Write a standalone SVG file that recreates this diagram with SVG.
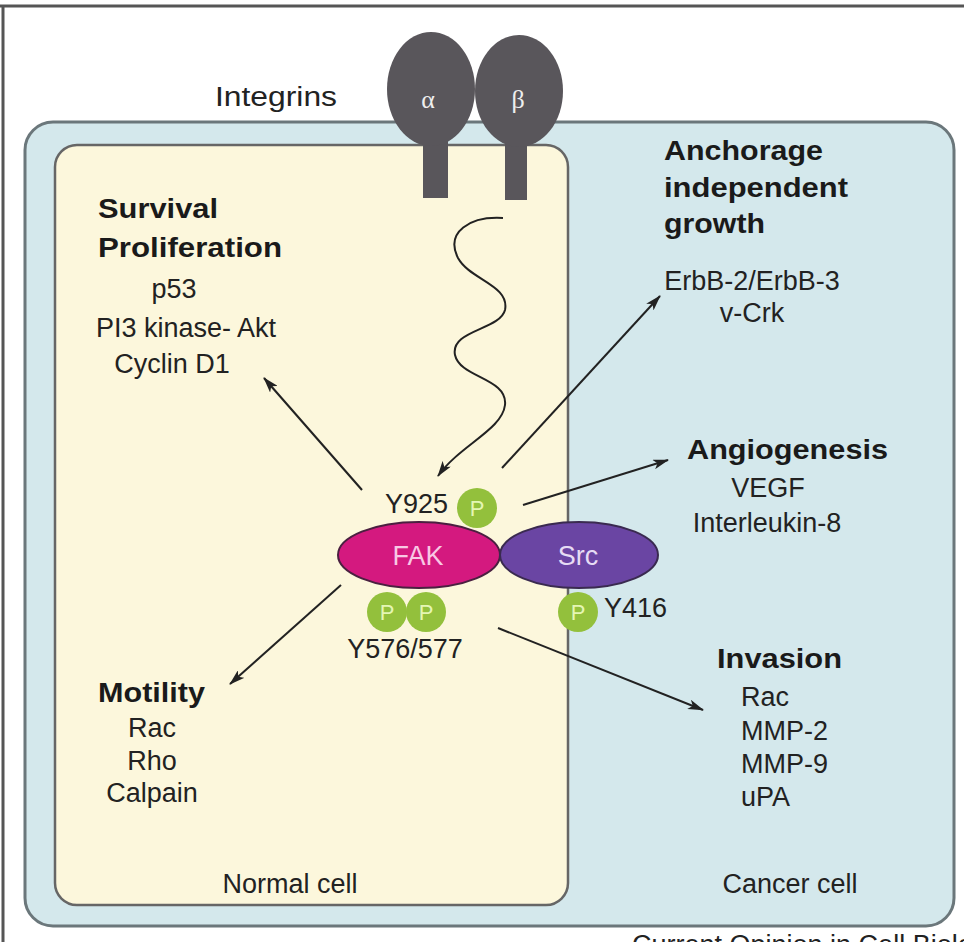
<svg xmlns="http://www.w3.org/2000/svg" width="964" height="942" viewBox="0 0 964 942">
<defs>
<style>
.t{font-family:"Liberation Sans",Arial,sans-serif;font-size:27px;fill:#222}
.b{font-family:"Liberation Sans",Arial,sans-serif;font-size:27px;font-weight:bold;fill:#1a1a1a}
.c{text-anchor:middle}
.ln{fill:none;stroke:#222;stroke-width:2}
.p{fill:#93c03c}
.pt{font-family:"Liberation Sans",Arial,sans-serif;font-size:22px;fill:#e4f6b4;text-anchor:middle}
</style>
<marker id="ah" viewBox="0 0 16 10" refX="15" refY="5" markerWidth="16" markerHeight="10" markerUnits="userSpaceOnUse" orient="auto">
<path d="M0,0 L16,5 L0,10 L4,5 z" fill="#222"/>
</marker>
</defs>
<rect width="964" height="942" fill="#fff"/>
<path d="M0,6 H964 M3,6 V942" fill="none" stroke="#555" stroke-width="3"/>

<g id="cancer-cell">
<rect x="25" y="122" width="929" height="804" rx="28" fill="#d4e8ec" stroke="#6b777b" stroke-width="3"/>
<text class="t c" x="790" y="893">Cancer cell</text>
</g>
<g id="normal-cell">
<rect x="55" y="145" width="513" height="760" rx="22" fill="#fcf7dc" stroke="#666" stroke-width="2.5"/>
<text class="t c" x="290" y="893">Normal cell</text>
</g>

<g id="integrins">
<text class="t" x="215" y="106" textLength="122" lengthAdjust="spacingAndGlyphs">Integrins</text>
<rect x="423" y="130" width="25" height="68" fill="#59565b"/>
<rect x="505" y="130" width="22" height="70" fill="#59565b"/>
<ellipse cx="431" cy="89" rx="44" ry="57" fill="#59565b"/>
<ellipse cx="519" cy="91" rx="44" ry="56" fill="#59565b"/>
<text x="428" y="108" font-family="'Liberation Serif',serif" font-size="26" fill="#eee" text-anchor="middle">α</text>
<text x="518" y="108" font-family="'Liberation Serif',serif" font-size="26" fill="#eee" text-anchor="middle">β</text>
</g>

<g id="connectors">
<path class="ln" d="M503,218 C470,216 445,232 458,258 C470,280 510,285 505,310 C500,330 450,330 455,355 C460,378 508,378 505,405 C502,430 460,445 438,476" marker-end="url(#ah)"/>
<line class="ln" x1="362" y1="490" x2="264" y2="378" marker-end="url(#ah)"/>
<line class="ln" x1="502" y1="468" x2="660" y2="296" marker-end="url(#ah)"/>
<line class="ln" x1="523" y1="505" x2="668" y2="460" marker-end="url(#ah)"/>
<line class="ln" x1="341" y1="585" x2="230" y2="684" marker-end="url(#ah)"/>
<line class="ln" x1="498" y1="628" x2="703" y2="710" marker-end="url(#ah)"/>
</g>

<g id="fak">
<ellipse cx="419" cy="555" rx="81" ry="33" fill="#d4197f" stroke="#4a2040" stroke-width="2"/>
<text class="t c" x="418" y="565" style="fill:#f8c8e4">FAK</text>
</g>
<g id="src">
<ellipse cx="579" cy="555" rx="79" ry="33" fill="#6a45a3" stroke="#3a2a50" stroke-width="2"/>
<text class="t c" x="578" y="565" style="fill:#e6dcf4">Src</text>
</g>

<g id="p-y925">
<circle class="p" cx="477" cy="508" r="20"/>
<text class="pt" x="477" y="516">P</text>
<text class="t" x="385" y="513" font-size="25">Y925</text>
</g>
<g id="p-y576">
<circle class="p" cx="387" cy="612" r="20"/>
<circle class="p" cx="426" cy="612" r="20"/>
<text class="pt" x="387" y="620">P</text>
<text class="pt" x="426" y="620">P</text>
<text class="t c" x="405" y="658">Y576/577</text>
</g>
<g id="p-y416">
<circle class="p" cx="578" cy="612" r="20"/>
<text class="pt" x="578" y="620">P</text>
<text class="t" x="604" y="617">Y416</text>
</g>

<g id="survival">
<text class="b" x="98" y="218" textLength="120" lengthAdjust="spacingAndGlyphs">Survival</text>
<text class="b" x="98" y="257" textLength="184" lengthAdjust="spacingAndGlyphs">Proliferation</text>
<text class="t c" x="174" y="298">p53</text>
<text class="t c" x="186" y="337">PI3 kinase- Akt</text>
<text class="t c" x="172" y="373">Cyclin D1</text>
</g>

<g id="anchorage">
<text class="b" x="664" y="160" textLength="159" lengthAdjust="spacingAndGlyphs">Anchorage</text>
<text class="b" x="664" y="197" textLength="184" lengthAdjust="spacingAndGlyphs">independent</text>
<text class="b" x="664" y="233" textLength="101" lengthAdjust="spacingAndGlyphs">growth</text>
<text class="t c" x="752" y="290">ErbB-2/ErbB-3</text>
<text class="t c" x="752" y="322">v-Crk</text>
</g>

<g id="angiogenesis">
<text class="b" x="687" y="459" textLength="201" lengthAdjust="spacingAndGlyphs">Angiogenesis</text>
<text class="t c" x="768" y="497">VEGF</text>
<text class="t c" x="767" y="532">Interleukin-8</text>
</g>

<g id="motility">
<text class="b" x="98" y="702" textLength="107" lengthAdjust="spacingAndGlyphs">Motility</text>
<text class="t c" x="152" y="737">Rac</text>
<text class="t c" x="152" y="770">Rho</text>
<text class="t c" x="152" y="802">Calpain</text>
</g>

<g id="invasion">
<text class="b" x="717" y="668" textLength="125" lengthAdjust="spacingAndGlyphs">Invasion</text>
<text class="t" x="741" y="706">Rac</text>
<text class="t" x="741" y="740">MMP-2</text>
<text class="t" x="741" y="773">MMP-9</text>
<text class="t" x="741" y="806">uPA</text>
</g>

<text class="t" x="632" y="954" font-size="24">Current Opinion in Cell Biology</text>
</svg>
